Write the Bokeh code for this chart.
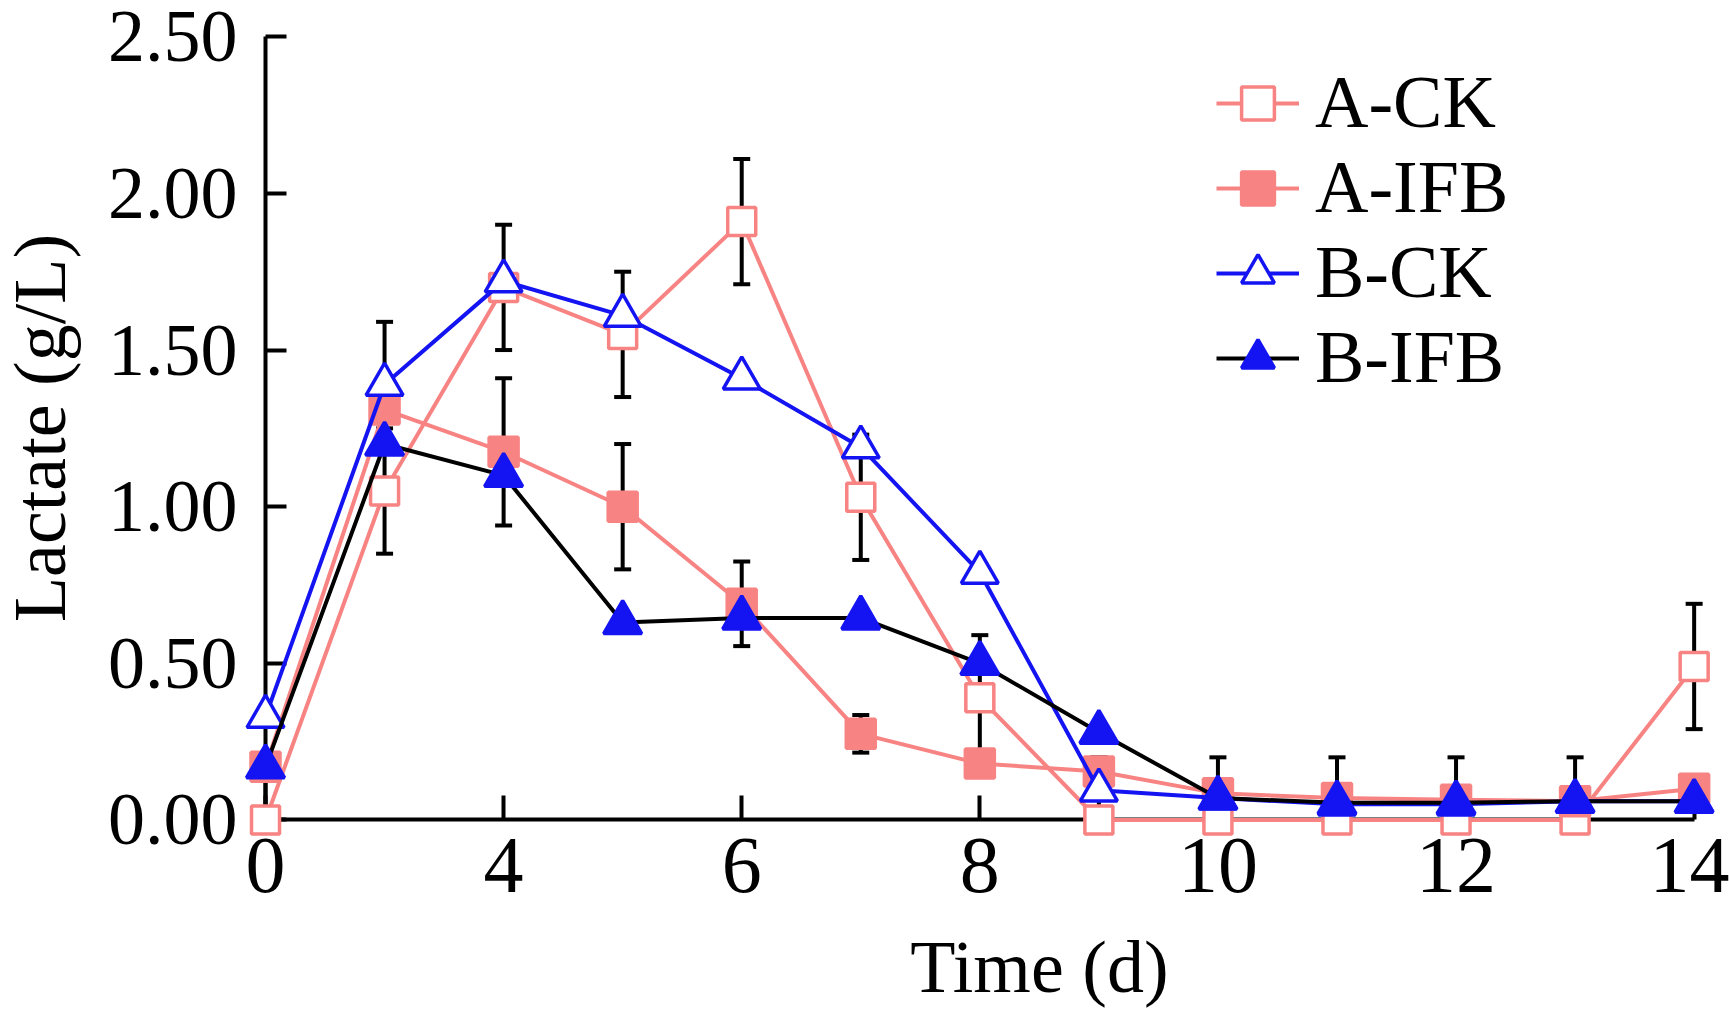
import numpy as np
from bokeh.plotting import figure
from bokeh.models import (Range1d, FixedTicker, NumeralTickFormatter, ColumnDataSource,
                          Whisker, TeeHead, Legend, LegendItem, Label)
from bokeh.embed import file_html
from bokeh.resources import INLINE

# ---- data ----
x_tick_pos = [0, 2, 4, 6, 8, 10, 12]
x_tick_labels = ["0", "4", "6", "8", "10", "12", "14"]
y_ticks = [0.0, 0.5, 1.0, 1.5, 2.0, 2.5]

A_CK = [0.00, 1.05, 1.70, 1.55, 1.91, 1.03, 0.39, 0.00, 0.00, 0.00, 0.00, 0.00, 0.49]
A_CK_err = [0.20, 0.20, 0.20, 0.20, 0.20, 0.20, 0.20, 0.20, 0.20, 0.20, 0.20, 0.20, 0.20]
A_IFB = [0.17, 1.31, 1.175, 1.00, 0.69, 0.275, 0.18, 0.155, 0.085, 0.07, 0.065, 0.06, 0.10]
A_IFB_err = [0, 0, 0.235, 0.20, 0.135, 0.06, 0, 0, 0, 0, 0, 0, 0]
B_CK = [0.33, 1.39, 1.72, 1.61, 1.41, 1.19, 0.79, 0.095, 0.07, 0.05, 0.05, 0.06, 0.06]
B_CK_err = [0, 0.20, 0, 0, 0, 0, 0, 0, 0, 0, 0, 0, 0]
B_IFB = [0.17, 1.20, 1.10, 0.63, 0.645, 0.645, 0.50, 0.28, 0.07, 0.055, 0.055, 0.06, 0.06]
B_IFB_err = [0, 0, 0, 0, 0, 0, 0, 0, 0, 0, 0, 0, 0]

PINK = "#F88383"
BLUE = "#1414F2"
FONT = "Liberation Serif"

x = np.arange(len(A_CK))

W, H = 1729, 1019
p = figure(width=W, height=H, output_backend="svg", toolbar_location=None, title=None,
           x_range=Range1d(-2.226, 12.297), y_range=Range1d(-0.6368, 2.6157),
           min_border_left=0, min_border_right=0, min_border_top=0, min_border_bottom=0)
p.outline_line_color = None
p.grid.visible = False
p.background_fill_color = "white"

xa = p.xaxis[0]
xa.fixed_location = 0
xa.bounds = (0, 12)
xa.ticker = FixedTicker(ticks=x_tick_pos)
xa.major_label_overrides = {k: v for k, v in zip(x_tick_pos, x_tick_labels)}
xa.major_tick_in = 24
xa.major_tick_out = 0
xa.minor_tick_line_color = None
xa.axis_line_width = 4
xa.major_tick_line_width = 4
xa.axis_line_color = "black"
xa.major_tick_line_color = "black"
xa.major_label_text_font = FONT
xa.major_label_text_font_size = "80px"
xa.major_label_text_color = "black"
xa.major_label_standoff = 19
xa.level = "underlay"

ya = p.yaxis[0]
ya.fixed_location = 0
ya.bounds = (0, 2.5)
ya.ticker = FixedTicker(ticks=y_ticks)
ya.formatter = NumeralTickFormatter(format="0.00")
ya.major_tick_in = 21
ya.major_tick_out = 0
ya.minor_tick_line_color = None
ya.axis_line_width = 4
ya.major_tick_line_width = 4
ya.axis_line_color = "black"
ya.major_tick_line_color = "black"
ya.major_label_text_font = FONT
ya.major_label_text_font_size = "74px"
ya.major_label_text_color = "black"
ya.major_label_standoff = 28
ya.axis_label = "Lactate (g/L)"
ya.axis_label_text_font = FONT
ya.axis_label_text_font_size = "74px"
ya.axis_label_text_font_style = "normal"
ya.axis_label_text_color = "black"
ya.axis_label_standoff = 24
ya.level = "underlay"


def add_err(vals, errs):
    v = np.array(vals, dtype=float)
    e = np.array(errs, dtype=float)
    m = e > 0
    src = ColumnDataSource(dict(base=x[m], upper=(v + e)[m], lower=np.maximum(v - e, 0)[m]))
    w = Whisker(source=src, base="base", upper="upper", lower="lower", dimension="height",
                line_color="black", line_width=4,
                upper_head=TeeHead(size=17, line_width=4, line_color="black"),
                lower_head=TeeHead(size=17, line_width=4, line_color="black"))
    w.level = "underlay"
    p.add_layout(w)


add_err(A_CK, A_CK_err)
add_err(A_IFB, A_IFB_err)
add_err(B_CK, B_CK_err)
add_err(B_IFB, B_IFB_err)

series = [
    ("A-CK", A_CK, PINK, "square", "white", PINK, 28),
    ("A-IFB", A_IFB, PINK, "square", PINK, PINK, 29),
    ("B-CK", B_CK, BLUE, "triangle", "white", BLUE, 37),
    ("B-IFB", B_IFB, "black", "triangle", BLUE, BLUE, 38),
]

items = []
for name, vals, lcol, mk, fill, mline, sz in series:
    lr = p.line(x, vals, line_color=lcol, line_width=4)
    sr = p.scatter(x, vals, marker=mk, size=sz, fill_color=fill, line_color=mline, line_width=3.5)
    items.append(LegendItem(label=name, renderers=[lr, sr]))

legend = Legend(items=items, location=(1216, 619), orientation="vertical",
                label_text_font=FONT, label_text_font_size="74px", label_text_color="black",
                glyph_width=83, glyph_height=82, label_standoff=16, spacing=0,
                padding=0, margin=0, border_line_color=None, background_fill_alpha=0)
p.add_layout(legend)

p.add_layout(Label(x=6.5, y=53, y_units="screen", text="Time (d)", text_align="center",
                   text_baseline="middle", text_font=FONT, text_font_size="74px",
                   text_color="black"))

open("out.html", "w").write(file_html(p, INLINE))
